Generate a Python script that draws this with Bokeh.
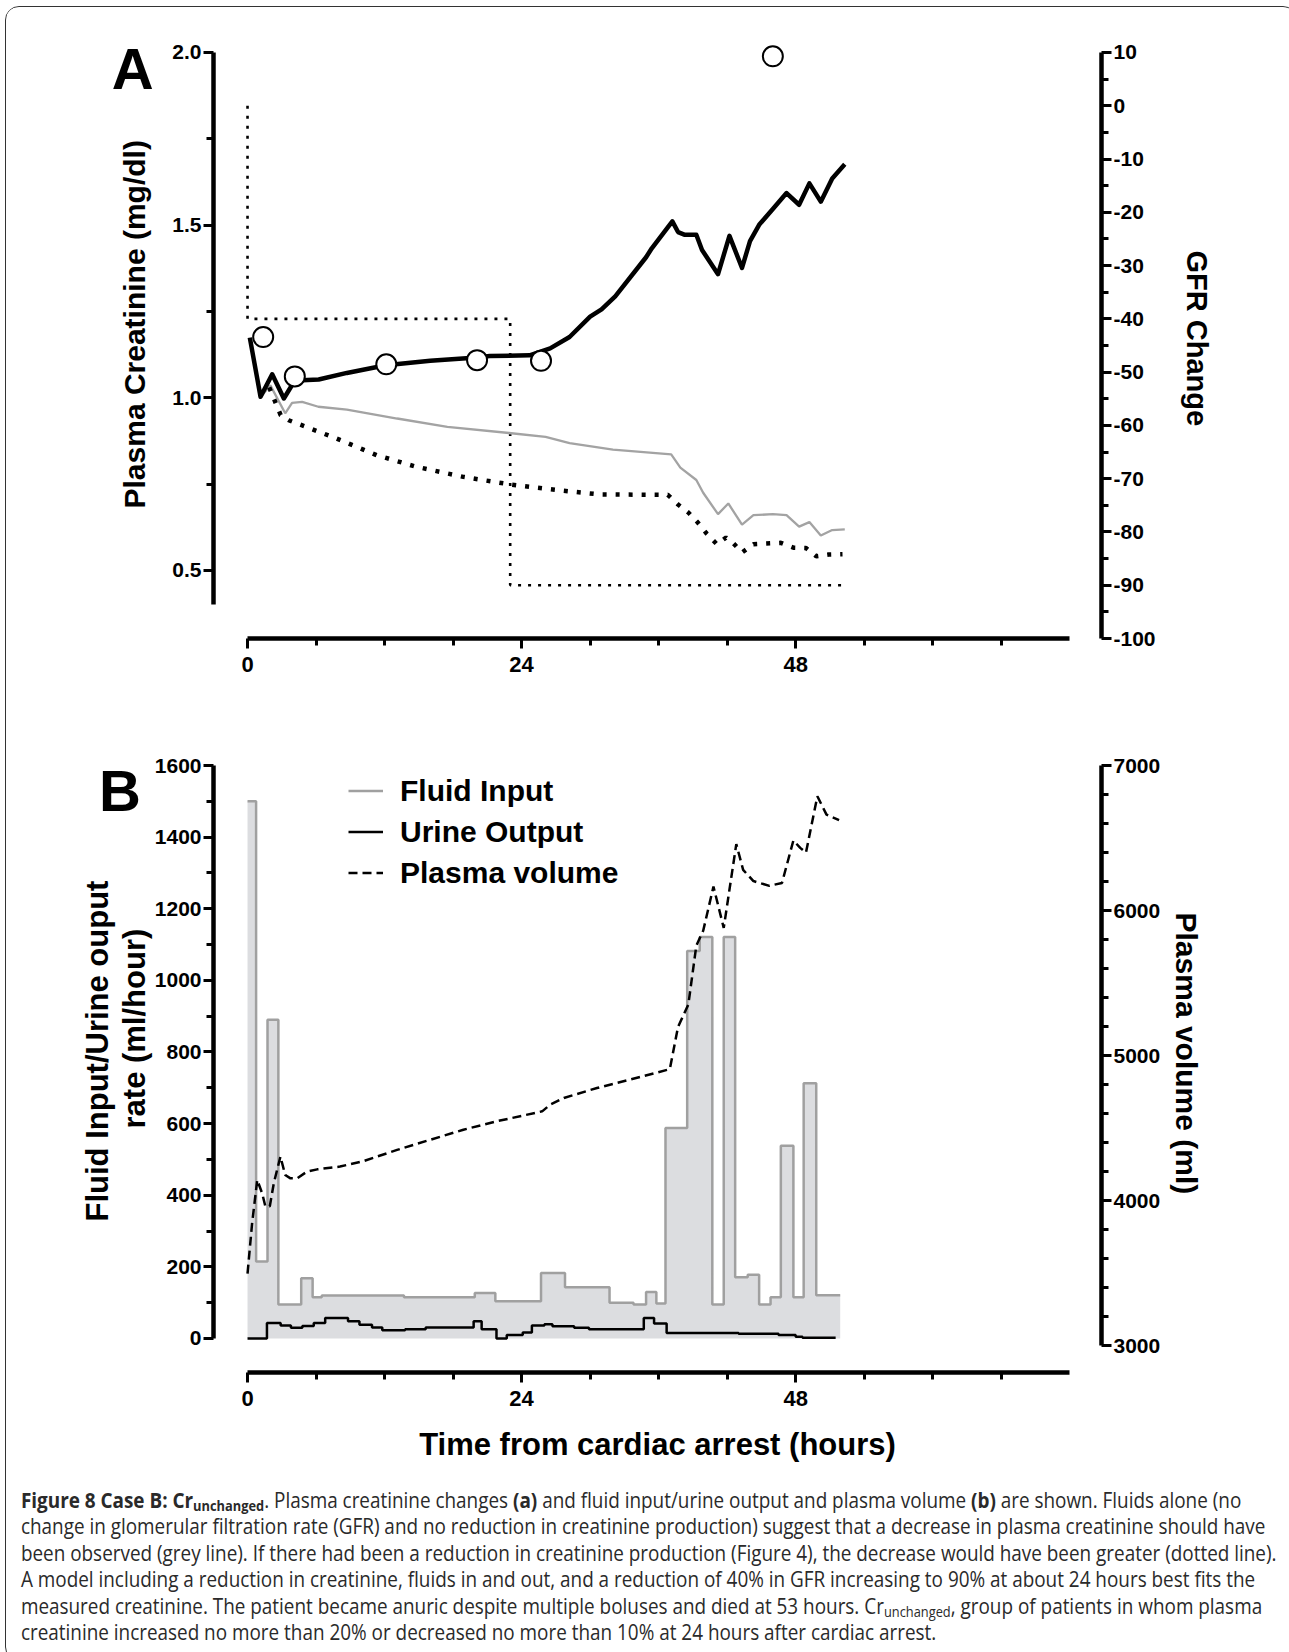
import numpy as np
from bokeh.plotting import figure
from bokeh.models import (Range1d, LinearAxis, FixedTicker, Label, Legend, LegendItem,
                          Div, PrintfTickFormatter, Title)
from bokeh.layouts import column
from bokeh.embed import file_html
from bokeh.resources import INLINE

# ---------------- Panel A data ----------------
model_t = [0.2, 1.14, 2.16, 3.18, 3.9, 4.78, 6.23, 8.7, 12.1, 16.0, 20.1, 21.2, 24.7, 26.5, 28.2,
           30.0, 31.0, 32.2, 34.9, 35.4, 37.2, 37.7, 38.3, 39.3, 39.8, 41.2, 42.2, 43.3, 44.0, 44.8,
           46.0, 47.2, 48.3, 49.2, 50.2, 51.2, 52.3]
model_cr = [1.174, 1.003, 1.068, 0.998, 1.037, 1.051, 1.053, 1.072, 1.094, 1.107, 1.117, 1.121, 1.123,
            1.143, 1.176, 1.235, 1.256, 1.294, 1.407, 1.433, 1.511, 1.480, 1.472, 1.472, 1.428, 1.358,
            1.469, 1.376, 1.454, 1.501, 1.547, 1.593, 1.559, 1.621, 1.568, 1.635, 1.676]

fluids_t = [1.1, 2.0, 3.3, 3.9, 4.78, 6.2, 8.7, 13.1, 17.5, 22.9, 26.1, 28.2, 32.0, 37.1, 37.9, 39.3,
            39.9, 41.2, 42.1, 43.3, 44.3, 46.0, 47.2, 48.3, 49.2, 50.2, 51.2, 52.3]
fluids_cr = [1.0, 1.036, 0.955, 0.985, 0.988, 0.974, 0.966, 0.940, 0.916, 0.898, 0.887, 0.869, 0.850,
             0.836, 0.798, 0.762, 0.725, 0.663, 0.694, 0.633, 0.660, 0.663, 0.660, 0.627, 0.640, 0.601,
             0.617, 0.619]

reduced_t = [1.9, 2.9, 3.6, 5.5, 7.8, 11.3, 14.8, 18.9, 23.0, 27.6, 30.9, 36.8, 37.7, 38.6, 39.4, 40.2,
             41.1, 41.9, 42.5, 43.3, 44.3, 46.7, 47.8, 48.9, 49.8, 50.9, 52.1]
reduced_cr = [1.03, 0.950, 0.935, 0.911, 0.882, 0.834, 0.800, 0.771, 0.749, 0.731, 0.720, 0.719, 0.691,
              0.668, 0.640, 0.607, 0.576, 0.595, 0.580, 0.552, 0.576, 0.580, 0.566, 0.565, 0.541, 0.546,
              0.547]

gfr_t = [0, 0, 23, 23, 52.3]
gfr_change = [0, -40, -40, -90, -90]

measured_t = [1.37, 4.14, 12.15, 20.1, 25.7, 46.0]
measured_cr = [1.176, 1.062, 1.097, 1.109, 1.107, 1.989]

# ---------------- Panel B data ----------------
fluid_in_t = [0.0, 0.75, 1.75, 2.7, 4.7, 5.7, 6.5, 13.7, 19.9, 21.7, 25.7, 27.8, 31.7, 33.8, 34.9, 35.8,
              36.6, 38.5, 39.6, 40.7, 41.7, 42.7, 43.8, 44.8, 45.8, 46.7, 47.8, 48.7, 49.8, 51.9]
fluid_in = [1500, 215, 890, 95, 168, 115, 120, 115, 127, 104, 183, 143, 100, 95, 130, 98,
            588, 1082, 1121, 95, 1121, 171, 178, 95, 115, 538, 115, 713, 121, 121]

urine_t = [0, 1.7, 2.9, 3.8, 4.8, 5.8, 6.8, 8.8, 9.8, 10.9, 11.8, 13.8, 15.6, 19.8, 20.5, 21.8, 22.7,
           24.1, 24.9, 26.0, 26.7, 28.6, 29.9, 34.7, 35.6, 36.7, 43.0, 46.5, 48.0, 48.6, 51.5]
urine = [0, 43, 36, 30, 35, 43, 57, 48, 38, 31, 23, 26, 31, 48, 26, 0, 10,
         17, 36, 40, 34, 30, 26, 57, 42, 15, 13, 10, 5, 2, 2]

pv_t = [0, 0.4, 0.85, 1.28, 1.57, 1.95, 2.3, 2.88, 3.3, 3.76, 4.34, 5.2, 6.1, 8.1, 10.2, 13.1, 16.0,
        18.9, 21.8, 25.8, 26.5, 27.7, 30.6, 33.5, 36.98, 37.7, 38.6, 39.3, 39.9, 40.8, 41.7, 42.8,
        43.4, 44.3, 45.7, 46.8, 47.8, 48.4, 48.9, 49.9, 50.7, 51.8]
pv = [3496, 3842, 4142, 4050, 3957, 3961, 4119, 4303, 4176, 4153, 4153, 4199, 4215, 4234, 4273, 4349,
      4419, 4488, 4546, 4615, 4661, 4707, 4776, 4834, 4906, 5198, 5351, 5758, 5860, 6165, 5880, 6458,
      6280, 6203, 6170, 6190, 6483, 6432, 6399, 6788, 6661, 6623]

# ---------------- ticks ----------------
x_ticks = [0, 24, 48]
x_minor = [6, 12, 18, 30, 36, 42, 54, 60, 66]
cr_ticks = [0.5, 1.0, 1.5, 2.0]
cr_minor = [0.75, 1.25, 1.75]
gfr_ticks = list(range(-100, 11, 10))
gfr_minor = list(range(-95, 10, 10))
rate_ticks = list(range(0, 1601, 200))
rate_minor = list(range(100, 1600, 200))
pv_ticks = [3000, 4000, 5000, 6000, 7000]
pv_minor = [v for v in range(3200, 7000, 200) if v % 1000]

FONT = "Liberation Sans"
W = 1280          # content width (page x 6 .. 1286)
ORIGIN_X = 6      # page x of the canvas left edge


def style_axis(ax, size="21px", standoff=2):
    ax.axis_line_width = 4.5
    ax.axis_line_color = "black"
    ax.major_tick_line_width = 3
    ax.minor_tick_line_width = 3
    ax.major_tick_line_color = "black"
    ax.minor_tick_line_color = "black"
    ax.major_tick_in = 0
    ax.major_tick_out = 10
    ax.minor_tick_in = 0
    ax.minor_tick_out = 7
    ax.major_label_text_font = FONT
    ax.major_label_text_font_style = "bold"
    ax.major_label_text_font_size = size
    ax.major_label_text_color = "black"
    ax.major_label_standoff = standoff


def base_fig(height, y_range, top, bottom):
    p = figure(width=W, height=height, x_range=Range1d(-2.98, 74.78), y_range=y_range,
               output_backend="svg", toolbar_location=None,
               min_border_left=213 - ORIGIN_X, min_border_right=ORIGIN_X + W - 1101,
               min_border_top=top, min_border_bottom=bottom)
    p.outline_line_color = None
    p.xgrid.visible = False
    p.ygrid.visible = False
    p.background_fill_color = "white"
    p.border_fill_color = "white"
    xa = p.xaxis[0]
    xa.bounds = (0, 72)
    xa.ticker = FixedTicker(ticks=x_ticks, minor_ticks=x_minor)
    xa.formatter = PrintfTickFormatter(format="%d")
    style_axis(xa, size="22px", standoff=8)
    return p


def side_title(p, text, side, offset, standoff, size="31px"):
    p.add_layout(Title(text=text, align="left", offset=offset, standoff=standoff,
                       text_font=FONT, text_font_style="bold", text_font_size=size,
                       text_color="black"), side)


def letter(p, x, y, text):
    p.add_layout(Label(x=x, y=y, text=text, text_align="left", text_baseline="middle",
                       text_font=FONT, text_font_style="bold", text_font_size="58px",
                       text_color="black"), "left")


# ================= Panel A =================
# canvas page y 7..707, frame page y 35..638
pa = base_fig(700, Range1d(0.3029, 2.0492), top=28, bottom=69)
ya = pa.yaxis[0]
ya.bounds = (0.4, 2.0)
ya.ticker = FixedTicker(ticks=cr_ticks, minor_ticks=cr_minor)
ya.formatter = PrintfTickFormatter(format="%.1f")
style_axis(ya)

pa.extra_y_ranges = {"gfr": Range1d(-100, 13.19)}
ra = LinearAxis(y_range_name="gfr", bounds=(-100, 10))
ra.ticker = FixedTicker(ticks=gfr_ticks, minor_ticks=gfr_minor)
ra.formatter = PrintfTickFormatter(format="%d")
style_axis(ra)
pa.add_layout(ra, "right")

pa.line(gfr_t, gfr_change, y_range_name="gfr", line_color="black", line_width=2.6,
        line_dash="3 7")
pa.line(fluids_t, fluids_cr, line_color="#a3a3a3", line_width=2.3)
pa.line(reduced_t, reduced_cr, line_color="black", line_width=4.5, line_dash="4 9")
pa.line(model_t, model_cr, line_color="black", line_width=4.5, line_join="round")
pa.scatter(measured_t, measured_cr, marker="circle", size=20, fill_color="white",
           line_color="black", line_width=2)

side_title(pa, "Plasma Creatinine (mg/dl)", "left", offset=130, standoff=37, size="30px")
side_title(pa, "GFR Change", "right", offset=215, standoff=44, size="29px")
letter(pa, -11.9, 1.9545, "A")

# ================= Panel B =================
# canvas page y 707..1474, frame page y 765..1372
pb = base_fig(767, Range1d(-95, 1600), top=58, bottom=102)
yb = pb.yaxis[0]
yb.bounds = (0, 1600)
yb.ticker = FixedTicker(ticks=rate_ticks, minor_ticks=rate_minor)
yb.formatter = PrintfTickFormatter(format="%d")
style_axis(yb)

pb.extra_y_ranges = {"pv": Range1d(2814, 7000)}
rb = LinearAxis(y_range_name="pv", bounds=(3000, 7000))
rb.ticker = FixedTicker(ticks=pv_ticks, minor_ticks=pv_minor)
rb.formatter = PrintfTickFormatter(format="%d")
style_axis(rb)
pb.add_layout(rb, "right")

xb = pb.xaxis[0]
xb.axis_label = "Time from cardiac arrest (hours)"
xb.axis_label_text_font = FONT
xb.axis_label_text_font_style = "bold"
xb.axis_label_text_font_size = "31px"
xb.axis_label_text_color = "black"
xb.axis_label_standoff = 18

pb.varea_step(x=fluid_in_t, y1=0, y2=fluid_in, step_mode="after", fill_color="#dcdde0")
r_fluid = pb.step(fluid_in_t, fluid_in, mode="after", line_color="#a0a0a0", line_width=2.5)
r_urine = pb.step(urine_t, urine, mode="after", line_color="black", line_width=2.5)
r_pv = pb.line(pv_t, pv, y_range_name="pv", line_color="black", line_width=2.5, line_dash="9 5")

legend = Legend(items=[LegendItem(label="Fluid Input", renderers=[r_fluid]),
                       LegendItem(label="Urine Output", renderers=[r_urine]),
                       LegendItem(label="Plasma volume", renderers=[r_pv])],
                location=(135, 479), padding=0, margin=0, spacing=0,
                glyph_width=35, glyph_height=41, label_height=41, label_standoff=17,
                label_text_font=FONT, label_text_font_style="bold", label_text_font_size="30px",
                label_text_color="black", border_line_color=None, background_fill_alpha=0)
pb.add_layout(legend)

side_title(pb, "rate (ml/hour)", "left", offset=244, standoff=0, size="31px")
side_title(pb, "Fluid Input/Urine ouput", "left", offset=151, standoff=0, size="31px")
side_title(pb, "Plasma volume (ml)", "right", offset=147, standoff=12, size="30px")
letter(pb, -13.0, 1530, "B")

# ================= Caption =================
caption_lines = [
    "<b>Figure 8 Case B: Cr<sub>unchanged</sub></b>. Plasma creatinine changes <b>(a)</b> and fluid "
    "input/urine output and plasma volume <b>(b)</b> are shown. Fluids alone (no",
    "change in glomerular filtration rate (GFR) and no reduction in creatinine production) suggest "
    "that a decrease in plasma creatinine should have",
    "been observed (grey line). If there had been a reduction in creatinine production (Figure 4), "
    "the decrease would have been greater (dotted line).",
    "A model including a reduction in creatinine, fluids in and out, and a reduction of 40% in GFR "
    "increasing to 90% at about 24 hours best fits the",
    "measured creatinine. The patient became anuric despite multiple boluses and died at 53 hours. "
    "Cr<sub>unchanged</sub>, group of patients in whom plasma",
    "creatinine increased no more than 20% or decreased no more than 10% at 24 hours after cardiac arrest.",
]
html = ("<div style=\"font-family:'Open Sans',sans-serif;font-size:21px;line-height:26.4px;"
        "color:#2a2a2a;white-space:nowrap;transform:scaleX(0.9);transform-origin:0 0;"
        "padding:8px 0 0 11px;\">"
        + "<br>".join(caption_lines).replace(
            "<sub>", "<sub style='font-size:68%;line-height:0;vertical-align:-0.18em'>")
        + "</div>")
cap = Div(text=html, width=W, height=176, styles={"overflow": "hidden"})

layout = column(pa, pb, cap, spacing=0,
                styles={"border": "1px solid #333", "border-radius": "14px", "overflow": "hidden",
                        "margin-left": "5px", "margin-top": "6px"})
open("out.html", "w").write(file_html(layout, INLINE))
